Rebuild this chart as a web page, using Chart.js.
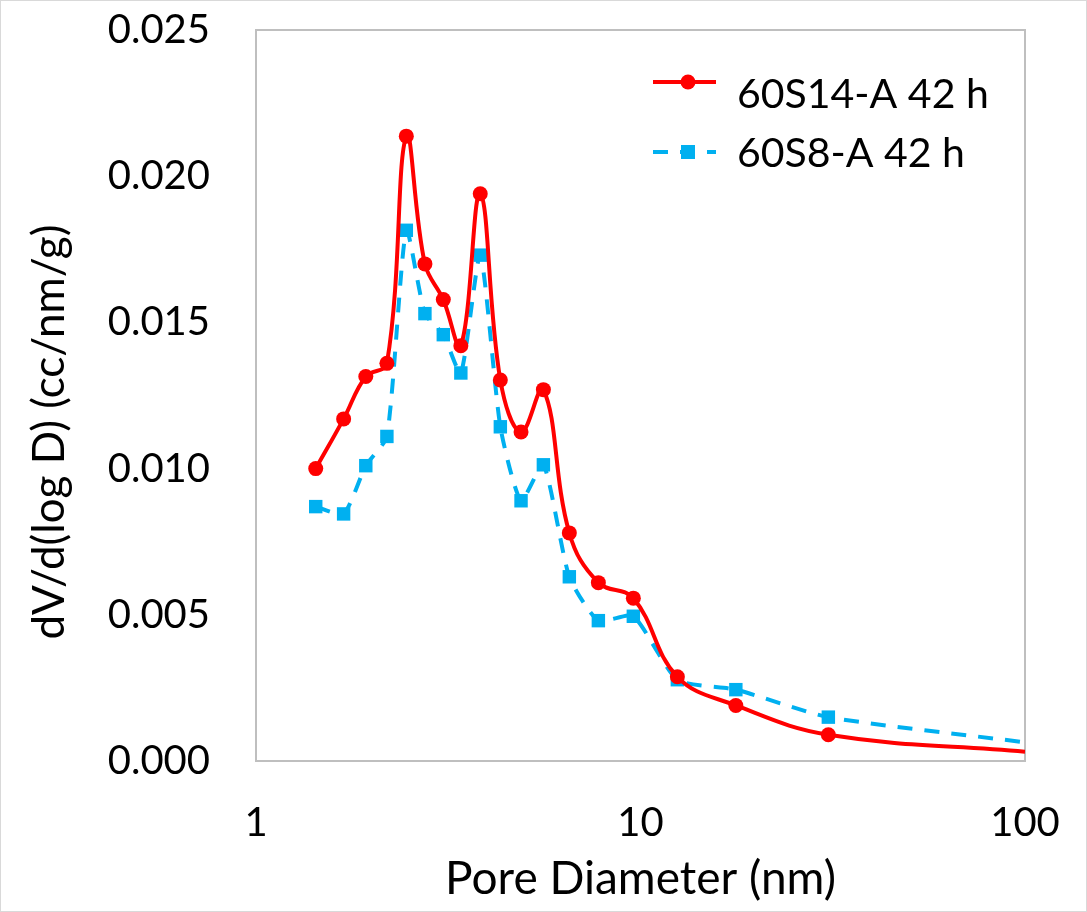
<!DOCTYPE html>
<html>
<head>
<meta charset="utf-8">
<script src="https://cdn.jsdelivr.net/npm/chart.js@4/dist/chart.umd.min.js"></script>
<style>
  html, body { margin: 0; padding: 0; background: #fff; }
  #wrap { width: 1087px; height: 912px; }
</style>
</head>
<body>
<div id="wrap"><canvas id="c" width="1087" height="912"></canvas></div>
<script>
// ---- data ----
const poreDiameter = [1.43, 1.69, 1.93, 2.19, 2.46, 2.75, 3.07, 3.41, 3.83, 4.32, 4.89, 5.59, 6.53, 7.77, 9.58, 12.47, 17.7, 30.8, 100];
const s60S14 = [0.0100, 0.0117, 0.01315, 0.0136, 0.02137, 0.0170, 0.01578, 0.0142, 0.0194, 0.01303, 0.01125, 0.0127, 0.0078, 0.0061, 0.00557, 0.00288, 0.0019, 0.0009, 0.00032];
const s60S8 = [0.0087, 0.00845, 0.0101, 0.0111, 0.01815, 0.0153, 0.01458, 0.01327, 0.0173, 0.01143, 0.0089, 0.01013, 0.0063, 0.0048, 0.00495, 0.00278, 0.00244, 0.0015, 0.00064];
const seriesNames = ['60S14-A 42 h', '60S8-A 42 h'];
const xTickValues = [1, 10, 100];
const yTickLabels = ['0.000', '0.005', '0.010', '0.015', '0.020', '0.025'];
const xTitle = 'Pore Diameter (nm)';
const yTitle = 'dV/d(log D) (cc/nm/g)';

const RED = '#FF0000';
const BLUE = '#00B0F0';
const FONT = 'Lato, "Noto Sans", sans-serif';

function pts(xs, ys) { return xs.map((x, i) => ({ x: x, y: ys[i] })); }
function radii(n, r) { const a = new Array(n).fill(r); a[n - 1] = 0; return a; }

const framePlugin = {
  id: 'frame',
  beforeDatasetsDraw(chart) {
    const { ctx, chartArea: a } = chart;
    ctx.save();
    ctx.strokeStyle = '#BFBFBF';
    ctx.lineWidth = 2;
    ctx.strokeRect(a.left, a.top, a.right - a.left, a.bottom - a.top);
    ctx.strokeStyle = '#D9D9D9';
    ctx.lineWidth = 1;
    ctx.strokeRect(0.5, 0.5, chart.width - 1, chart.height - 1);
    // y-axis title
    ctx.fillStyle = '#000';
    ctx.font = '44px ' + FONT;
    ctx.textAlign = 'center';
    ctx.textBaseline = 'middle';
    ctx.translate(50, 432);
    ctx.rotate(-Math.PI / 2);
    ctx.fillText(yTitle, 0, 0);
    ctx.restore();
  },
  afterDraw(chart) {
    const { ctx } = chart;
    const rows = [
      { ds: 0, lineY: 82, textY: 95 },
      { ds: 1, lineY: 152, textY: 154 }
    ];
    ctx.save();
    rows.forEach(r => {
      const d = chart.data.datasets[r.ds];
      ctx.strokeStyle = d.borderColor;
      ctx.lineWidth = d.borderWidth;
      ctx.setLineDash(d.borderDash || []);
      ctx.beginPath();
      ctx.moveTo(653, r.lineY);
      ctx.lineTo(716, r.lineY);
      ctx.stroke();
      ctx.setLineDash([]);
      ctx.fillStyle = d.pointBackgroundColor;
      if (d.pointStyle === 'rect') {
        ctx.fillRect(688 - 7, r.lineY - 7, 14, 14);
      } else {
        ctx.beginPath();
        ctx.arc(688, r.lineY, 7.5, 0, Math.PI * 2);
        ctx.fill();
      }
      ctx.fillStyle = '#000';
      ctx.font = '41px ' + FONT;
      ctx.textAlign = 'left';
      ctx.textBaseline = 'middle';
      ctx.fillText(d.label, 737, r.textY);
    });
    ctx.restore();
  }
};

new Chart(document.getElementById('c'), {
  type: 'line',
  data: {
    datasets: [
      {
        label: seriesNames[0],
        data: pts(poreDiameter, s60S14),
        borderColor: RED,
        backgroundColor: RED,
        borderWidth: 4,
        tension: 0.4,
        pointStyle: 'circle',
        pointRadius: radii(poreDiameter.length, 7.5),
        pointBackgroundColor: RED,
        pointBorderColor: RED,
        pointBorderWidth: 0,
        fill: false
      },
      {
        label: seriesNames[1],
        data: pts(poreDiameter, s60S8),
        borderColor: BLUE,
        backgroundColor: BLUE,
        borderWidth: 4,
        borderDash: [15, 12],
        tension: 0.2,
        pointStyle: 'rect',
        pointRadius: radii(poreDiameter.length, 9.5),
        pointBackgroundColor: BLUE,
        pointBorderColor: BLUE,
        pointBorderWidth: 0,
        fill: false
      }
    ]
  },
  options: {
    responsive: false,
    animation: false,
    devicePixelRatio: 1,
    layout: { padding: { left: 0, right: 62, top: 30, bottom: 0 } },
    plugins: { legend: { display: false }, tooltip: { enabled: false } },
    scales: {
      x: {
        type: 'logarithmic',
        min: 1,
        max: 100,
        grid: { display: false, drawTicks: false },
        border: { display: false },
        afterBuildTicks(scale) { scale.ticks = xTickValues.map(v => ({ value: v })); },
        afterFit(scale) {
          scale.height = 151;
          scale.paddingLeft = 0; scale.paddingRight = 0;
        },
        ticks: {
          autoSkip: false,
          maxRotation: 0,
          padding: 38,
          color: '#000',
          font: { family: FONT, size: 40 },
          callback: v => String(v)
        },
        title: {
          display: true,
          text: xTitle,
          color: '#000',
          font: { family: FONT, size: 46 },
          padding: { top: 0, bottom: 5 }
        }
      },
      y: {
        min: 0,
        max: 0.025,
        grid: { display: false, drawTicks: false },
        border: { display: false },
        afterFit(scale) {
          scale.width = 256;
          scale.paddingTop = 0; scale.paddingBottom = 0;
        },
        ticks: {
          stepSize: 0.005,
          padding: 46,
          color: '#000',
          font: { family: FONT, size: 40 },
          callback: (v, i) => yTickLabels[Math.round(v / 0.005)]
        }
      }
    }
  },
  plugins: [framePlugin]
});
</script>
</body>
</html>
